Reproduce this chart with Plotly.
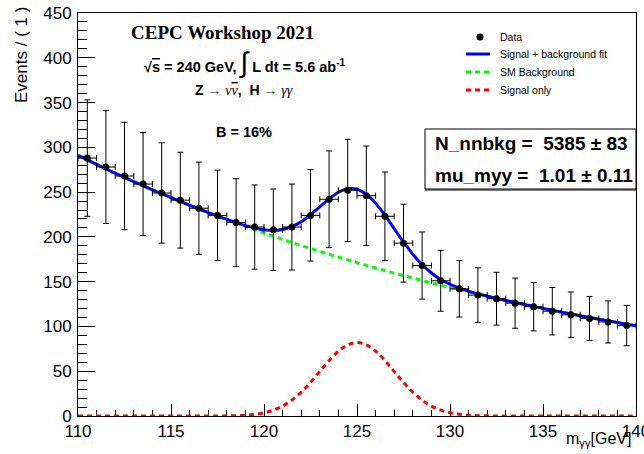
import plotly.graph_objects as go

# ---------------- data ----------------
bin_centers = [110.5, 111.5, 112.5, 113.5, 114.5, 115.5, 116.5, 117.5, 118.5, 119.5,
               120.5, 121.5, 122.5, 123.5, 124.5, 125.5, 126.5, 127.5, 128.5, 129.5,
               130.5, 131.5, 132.5, 133.5, 134.5, 135.5, 136.5, 137.5, 138.5, 139.5]
events = [288, 278, 268, 259, 249, 241, 232, 224, 216, 211,
          208, 211, 224, 242, 252, 246, 223, 193, 168, 151,
          142, 135, 131, 126, 122, 117, 113, 109, 105, 101]
event_errors = [65, 63, 60, 57.5, 56, 53.5, 51.5, 50.5, 49, 47,
                45.5, 48, 51, 54, 57, 55.5, 49.5, 43.5, 37.5, 34,
                31.5, 30.5, 29.5, 28, 27, 26.5, 25.5, 24.5, 23.5, 22.5]
bin_half_width = [0.5] * len(bin_centers)

curve_x = [110.0, 110.5, 111.0, 111.5, 112.0, 112.5, 113.0, 113.5, 114.0, 114.5,
           115.0, 115.5, 116.0, 116.5, 117.0, 117.5, 118.0, 118.5, 119.0, 119.5,
           120.0, 120.5, 121.0, 121.5, 122.0, 122.5, 123.0, 123.5, 124.0, 124.5,
           125.0, 125.5, 126.0, 126.5, 127.0, 127.5, 128.0, 128.5, 129.0, 129.5,
           130.0, 130.5, 131.0, 131.5, 132.0, 132.5, 133.0, 133.5, 134.0, 134.5,
           135.0, 135.5, 136.0, 136.5, 137.0, 137.5, 138.0, 138.5, 139.0, 139.5,
           140.0]
sm_background = [291.0, 285.9, 280.9, 276.0, 271.1, 266.4, 261.7, 257.1, 252.6, 248.2,
                 243.8, 239.6, 235.4, 231.2, 227.2, 223.2, 219.3, 215.5, 211.7, 208.0,
                 204.3, 200.8, 197.2, 193.8, 190.4, 187.1, 183.8, 180.6, 177.4, 174.3,
                 171.2, 168.2, 165.3, 162.4, 159.5, 156.7, 154.0, 151.3, 148.6, 146.0,
                 143.5, 141.0, 138.5, 136.1, 133.7, 131.3, 129.0, 126.8, 124.5, 122.4,
                 120.2, 118.1, 116.0, 114.0, 112.0, 110.0, 108.1, 106.2, 104.3, 102.5,
                 100.7]
signal_only = [0, 0, 0, 0, 0, 0, 0, 0, 0, 0,
               0, 0, 0, 0, 0, 0, 0.2, 0.4, 0.9, 1.9,
               3.6, 6.5, 11.1, 17.8, 26.6, 37.6, 49.7, 61.9, 72.4, 79.5,
               82.0, 79.5, 72.4, 61.9, 49.7, 37.6, 26.6, 17.8, 11.1, 6.5,
               3.6, 1.9, 0.9, 0.4, 0.2, 0, 0, 0, 0, 0,
               0, 0, 0, 0, 0, 0, 0, 0, 0, 0,
               0]
signal_plus_bkg = [b + s for b, s in zip(sm_background, signal_only)]

x_range = [110, 140]
y_range = [0, 450]

# ---------------- layout helpers ----------------
W, H = 644, 454
L, R, T, B = 78, 8, 13, 38
PW, PH = W - L - R, H - T - B


def px(x):
    return (x - L) / PW


def py(y):
    return (H - B - y) / PH


SANS = "Liberation Sans, Arial, Helvetica, sans-serif"
SERIF = "Liberation Serif, Times New Roman, serif"
DASH = "5px,4px"

fig = go.Figure()

fig.add_trace(go.Scatter(x=curve_x, y=sm_background, mode="lines", line_shape="spline",
                         line=dict(color="#00ff00", width=3, dash=DASH),
                         name="SM Background", hoverinfo="skip"))
fig.add_trace(go.Scatter(x=curve_x, y=signal_only, mode="lines", line_shape="spline",
                         line=dict(color="#ff0000", width=3, dash=DASH),
                         name="Signal only", hoverinfo="skip"))
fig.add_trace(go.Scatter(x=curve_x, y=signal_plus_bkg, mode="lines", line_shape="spline",
                         line=dict(color="#0000ff", width=3),
                         name="Signal + background fit", hoverinfo="skip"))
fig.add_trace(go.Scatter(x=bin_centers, y=events, mode="markers",
                         marker=dict(color="black", size=7),
                         error_y=dict(type="data", array=event_errors, color="black",
                                      thickness=1, width=3),
                         error_x=dict(type="data", array=bin_half_width, color="black",
                                      thickness=1, width=3),
                         name="Data"))

axis_common = dict(showline=True, linecolor="black", linewidth=1, mirror=True,
                   ticks="inside", tickcolor="black", tickwidth=1,
                   showgrid=False, zeroline=False, layer="below traces",
                   ticklabeloverflow="allow", automargin=False,
                   tickfont=dict(family=SANS, size=17, color="black"))

fig.update_xaxes(range=x_range, dtick=5, tick0=110, ticklen=12,
                 minor=dict(dtick=1, ticklen=6, ticks="inside", tickcolor="black"),
                 **axis_common)
fig.update_yaxes(range=y_range, dtick=50, tick0=0, ticklen=17,
                 minor=dict(dtick=10, ticklen=9, ticks="inside", tickcolor="black"),
                 ticklabelstandoff=2, **axis_common)

annotations = []
shapes = []

# axis titles
annotations.append(dict(text="Events / ( 1 )", xref="paper", yref="paper",
                        x=px(21), y=py(5), xanchor="center", yanchor="top",
                        textangle=-90, showarrow=False,
                        font=dict(family=SANS, size=17, color="black")))
annotations.append(dict(text="m<sub>γγ</sub>[GeV]", xref="paper", yref="paper",
                        x=px(633), y=py(440), xanchor="right", yanchor="middle",
                        showarrow=False, font=dict(family=SANS, size=16, color="black")))

# top-left texts
annotations.append(dict(text="<b>CEPC Workshop 2021</b>", xref="paper", yref="paper",
                        x=px(222), y=py(32), xanchor="center", yanchor="middle",
                        showarrow=False, font=dict(family=SERIF, size=19, color="black")))
annotations.append(dict(
    text="<b>√<span style='text-decoration:overline'>s</span> = 240 GeV, </b>"
         "<span style='font-size:28px'>∫</span><b> L dt = 5.6 ab<sup>-1</sup></b>",
    xref="paper", yref="paper", x=px(245), y=py(62), xanchor="center", yanchor="middle",
    showarrow=False, font=dict(family=SANS, size=14.5, color="black")))
GREEK = "font-family:Liberation Serif;font-style:italic"
annotations.append(dict(
    text=("<b>Z</b> → <span style='%s'>ν</span><span style='%s;text-decoration:overline'>ν</span>"
          "<b>,  H</b> → <span style='%s'>γγ</span>") % (GREEK, GREEK, GREEK),
    xref="paper", yref="paper", x=px(244), y=py(90), xanchor="center", yanchor="middle",
    showarrow=False, font=dict(family=SANS, size=14, color="black")))
annotations.append(dict(text="<b>B = 16%</b>", xref="paper", yref="paper",
                        x=px(244), y=py(132), xanchor="center", yanchor="middle",
                        showarrow=False, font=dict(family=SANS, size=14.5, color="black")))

# legend (drawn manually)
leg_items = [("Signal + background fit", "#0000ff", "solid", 54),
             ("SM Background", "#00ff00", DASH, 72),
             ("Signal only", "#ff0000", DASH, 90)]
shapes.append(dict(type="circle", xref="paper", yref="paper",
                   x0=px(476.5), x1=px(483.5), y0=py(40.5), y1=py(33.5),
                   fillcolor="black", line=dict(color="black", width=0)))
annotations.append(dict(text="Data", xref="paper", yref="paper", x=px(498), y=py(37),
                        xanchor="left", yanchor="middle", showarrow=False,
                        font=dict(family=SANS, size=10.5, color="black")))
for label, col, dash, yy in leg_items:
    shapes.append(dict(type="line", xref="paper", yref="paper",
                       x0=px(466), x1=px(490), y0=py(yy), y1=py(yy),
                       line=dict(color=col, width=3, dash=dash)))
    annotations.append(dict(text=label, xref="paper", yref="paper", x=px(498), y=py(yy),
                            xanchor="left", yanchor="middle", showarrow=False,
                            font=dict(family=SANS, size=10.5, color="black")))

# fit-parameter box
shapes.append(dict(type="rect", xref="paper", yref="paper",
                   x0=px(425), x1=px(636), y0=py(189), y1=py(129),
                   fillcolor="white", line=dict(color="black", width=1), layer="above"))
shapes.append(dict(type="line", xref="paper", yref="paper",
                   x0=px(425), x1=px(636), y0=py(190), y1=py(190),
                   line=dict(color="black", width=1)))
annotations.append(dict(text="<b>N_nnbkg =  5385 ± 83</b>", xref="paper", yref="paper",
                        x=px(433), y=py(143), xanchor="left", yanchor="middle",
                        showarrow=False, font=dict(family=SANS, size=19, color="black")))
annotations.append(dict(text="<b>mu_myy =  1.01 ± 0.11</b>", xref="paper", yref="paper",
                        x=px(433), y=py(175), xanchor="left", yanchor="middle",
                        showarrow=False, font=dict(family=SANS, size=19, color="black")))

fig.update_layout(width=W, height=H, margin=dict(l=L, r=R, t=T, b=B, pad=0),
                  paper_bgcolor="white", plot_bgcolor="white", showlegend=False,
                  font=dict(family=SANS, color="black"),
                  annotations=annotations, shapes=shapes)

fig.write_html("out.html", config={"displayModeBar": False},
               post_script="document.body.style.margin='0';document.body.style.overflow='hidden';")
